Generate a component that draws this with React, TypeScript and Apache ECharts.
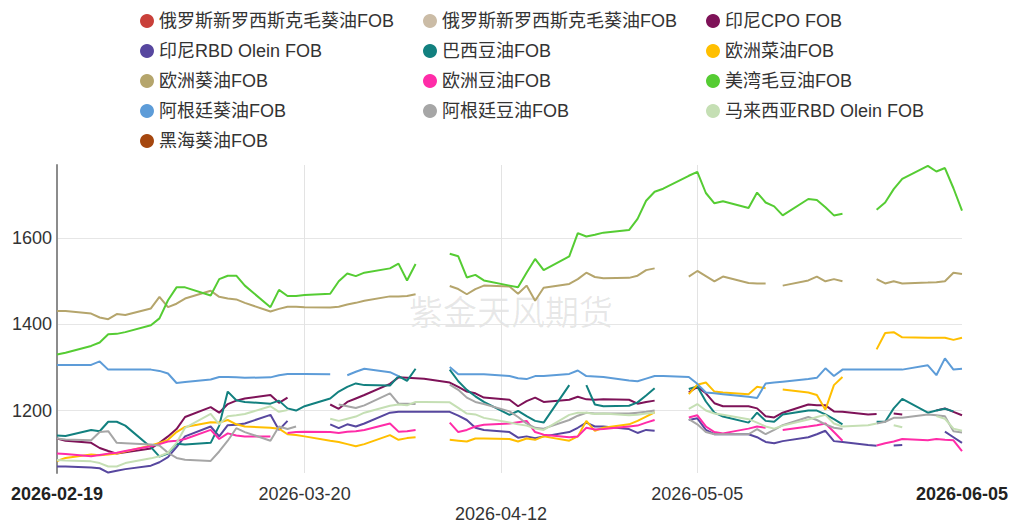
import React, { useEffect, useRef } from 'react';
import * as echarts from 'echarts';

const tradeDates = [
  '2026-02-19','2026-02-20','2026-02-23','2026-02-24','2026-02-25','2026-02-26','2026-02-27',
  '2026-03-02','2026-03-03','2026-03-04','2026-03-05','2026-03-06',
  '2026-03-09','2026-03-10','2026-03-11','2026-03-12','2026-03-13',
  '2026-03-16','2026-03-17','2026-03-18','2026-03-19','2026-03-20',
  '2026-03-23','2026-03-24','2026-03-25','2026-03-26','2026-03-27',
  '2026-03-30','2026-03-31','2026-04-01','2026-04-02','2026-04-03',
  '2026-04-06','2026-04-07','2026-04-08','2026-04-09','2026-04-10',
  '2026-04-13','2026-04-14','2026-04-15','2026-04-16','2026-04-17',
  '2026-04-20','2026-04-21','2026-04-22','2026-04-23','2026-04-24',
  '2026-04-27','2026-04-28','2026-04-29','2026-04-30','2026-05-01',
  '2026-05-04','2026-05-05','2026-05-06','2026-05-07','2026-05-08',
  '2026-05-11','2026-05-12','2026-05-13','2026-05-14','2026-05-15',
  '2026-05-18','2026-05-19','2026-05-20','2026-05-21','2026-05-22',
  '2026-05-25','2026-05-26','2026-05-27','2026-05-28','2026-05-29',
  '2026-06-01','2026-06-02','2026-06-03','2026-06-04','2026-06-05',
];

const tickLabels = ['2026-02-19', '2026-03-20', '2026-04-12', '2026-05-05', '2026-06-05'];
const boldLabels = ['2026-02-19', '2026-06-05'];
const lowLabels = ['2026-04-12'];

type V = number | null;

const russiaSunRaw1: V[] = [];
const russiaSunRaw2: V[] = [];
const blackSeaSun: V[] = [];

const indoCPO: V[] = [
  1135,1130,1125,1113,1106,1100,1103,
  1112,1125,1140,1157,1185,
  1208,1195,1215,1223,1228,
  1236,1218,1230,null,null,
  1214,1204,1220,1228,1236,
  1262,1277,1276,1275,1274,
  1265,1255,1244,1240,1230,
  1225,1210,1222,1230,1220,
  1225,1232,1226,1225,1226,
  1225,1216,1220,1223,null,
  1242,1255,1240,1217,1210,
  1210,1205,1187,1184,1195,
  1214,1212,1212,1198,1197,
  1191,1192,null,1193,1191,
  null,1200,1205,1197,1189,
];

const indoOlein: V[] = [
  1070,1070,1068,1066,1056,1060,1064,
  1072,1080,1092,1115,1140,
  1163,1140,1166,1167,1170,
  1190,1155,1176,null,null,
  1168,1159,1168,1163,1170,
  1195,1197,1197,1197,1197,
  1197,1188,1178,1160,1155,
  1150,1137,1140,1136,1140,
  1150,1160,1172,1163,1163,
  1157,1148,1155,1153,null,
  1178,1182,1155,1145,1145,
  1145,1138,1127,1124,1129,
  1138,1145,1153,1129,1127,
  1120,1118,null,1119,1120,
  null,null,1151,1138,1125,
];

const brazilSoy: V[] = [
  1142,1141,1155,1152,1174,1174,1165,
  1115,1093,1100,1123,1121,
  1125,1165,1244,1224,1220,
  1216,1223,1205,1200,1210,
  1228,1244,1255,1263,1259,
  1258,1280,1269,1297,null,
  1295,1268,1248,1233,1220,
  1190,1199,1187,1176,1172,
  1259,null,1259,1214,1210,
  1211,1219,1235,1252,null,
  1250,1256,1221,1195,1186,
  1172,1195,1176,1174,1191,
  1200,1200,1191,1180,1168,
  null,1174,1174,1205,1227,
  1195,1200,1204,1198,null,
];

const euRape: V[] = [
  1083,1090,1098,1096,1098,1100,1105,
  1119,1125,1132,1150,1162,
  1173,1172,1178,1168,1163,
  1160,1158,1145,1143,1140,
  1130,1127,1122,1117,1122,
  1143,1132,1136,1138,null,
  1132,1130,1128,1135,1135,
  1134,1128,1135,1132,1140,
  1130,1140,1176,1153,1160,
  1168,1176,1186,1196,null,
  1238,1260,1265,1244,1242,
  1238,1255,1252,null,1249,
  1242,1236,1202,1259,1278,
  null,1342,1380,1382,1370,
  1369,1369,1369,1364,1369,
];

const euSun: V[] = [
  1431,1431,1425,1416,1412,1424,1422,
  1437,1464,1440,1448,1460,
  1478,1464,1460,1458,1450,
  1430,1436,1441,1441,1440,
  1439,1441,1446,1450,1455,
  1465,1465,1466,1470,null,
  1489,1482,1470,1482,1490,
  1488,1471,1490,1455,1485,
  1494,1505,1520,1510,1507,
  1508,1513,1526,1530,null,
  1511,1524,1512,1500,1511,
  1496,1495,1495,null,1490,
  1502,1511,1500,1505,1500,
  null,1505,1495,1500,1495,
  1497,1498,1500,1520,1517,
];

const euSoy: V[] = [
  1100,1099,1094,1097,1100,1102,1106,
  1117,1122,1128,1130,1134,
  1155,1134,1147,1142,1140,
  1140,null,1148,1150,1151,
  1150,1148,1151,1152,1155,
  1170,1151,1152,1155,null,
  1172,1150,1155,1163,1167,
  1170,1173,1176,1150,1144,
  1138,1140,1160,1156,1157,
  1163,1165,1172,1178,null,
  1184,1189,1163,1150,1147,
  1158,1163,1160,null,1155,
  1163,1166,1170,1150,1130,
  null,1119,1124,1128,1134,
  1131,1134,1132,1131,1106,
];

const usGulfSoy: V[] = [
  1330,1334,1350,1358,1377,1378,1382,
  1398,1414,1456,1486,1486,
  1467,1505,1513,1513,1490,
  1440,1480,1466,1466,1468,
  1471,1500,1518,1512,1520,
  1530,1541,1502,1540,null,
  1564,1558,1509,1515,1502,
  1490,1486,1520,1552,1526,
  1558,1612,1604,1608,1613,
  1619,1645,1687,1708,1715,
  1745,1754,1705,1681,1686,
  1670,1706,1683,1674,1653,
  1691,1689,1672,1653,1657,
  null,1666,1683,1714,1738,
  1768,1755,1763,1716,1664,
];

const argSun: V[] = [
  1306,1306,1306,1314,1295,1295,1295,
  1295,1292,1286,1264,1266,
  1272,1278,1278,1277,1276,
  1277,1282,1285,1285,1285,
  1284,null,1282,1290,1297,
  1289,1280,null,null,null,
  1301,1284,1284,1284,1284,
  1280,1275,1273,1280,1280,
  1285,1293,1280,1279,1278,
  1270,1268,1274,1280,1280,
  1278,1262,1242,1240,1238,
  1232,1229,1263,1265,1267,
  1273,1276,1298,1280,1295,
  1295,1295,1295,1295,1295,
  1305,1282,1321,1295,1297,
];

const argSoy: V[] = [
  1135,1133,1131,1150,1152,1125,1124,
  1121,1119,1102,1090,1086,
  1083,1105,1130,1159,1150,
  1130,1163,1157,1163,null,
  null,1214,1210,1206,1212,
  1240,1216,1216,1215,null,
  1260,1248,1230,1220,1215,
  1198,1185,1170,1160,1158,
  1178,1188,1195,1193,1193,
  1193,1195,1197,1200,null,
  1180,1168,1150,1145,1145,
  1145,1157,1145,1155,1166,
  1185,1178,1168,1160,1157,
  null,1170,1174,1183,1183,
  1191,1189,1187,1152,1149,
];

const myOlein: V[] = [
  1085,1084,1082,1078,1070,1070,1078,
  1089,1094,1102,1125,1160,
  1192,1168,1187,1189,1192,
  1210,1197,1201,null,null,
  1181,1176,1181,1186,1195,
  1211,1214,1212,1220,1220,
  1219,1206,1193,1191,1183,
  1172,1168,1165,1158,1155,
  1190,1195,1195,1192,1193,
  1189,1190,1193,1195,null,
  1204,1215,1200,1193,1190,
  1180,1172,1163,1158,1165,
  1179,1185,1190,1170,1163,
  1166,1170,null,1166,1161,
  null,1187,1181,1158,1153,
];

const seriesNames = [
  '俄罗斯新罗西斯克毛葵油FOB', '俄罗斯新罗西斯克毛葵油FOB ', '印尼CPO FOB',
  '印尼RBD Olein FOB', '巴西豆油FOB', '欧洲菜油FOB',
  '欧洲葵油FOB', '欧洲豆油FOB', '美湾毛豆油FOB',
  '阿根廷葵油FOB', '阿根廷豆油FOB', '马来西亚RBD Olein FOB',
  '黑海葵油FOB',
];
const seriesValues = [
  russiaSunRaw1, russiaSunRaw2, indoCPO, indoOlein, brazilSoy, euRape,
  euSun, euSoy, usGulfSoy, argSun, argSoy, myOlein, blackSeaSun,
];
const seriesColors = [
  '#c9403a', '#cbbca6', '#7e1258', '#57479f', '#12807f', '#ffbf00',
  '#b5a56c', '#ff2ca8', '#55cc33', '#5d9cd8', '#a6a6a6', '#c5dfb4', '#a5470f',
];

const FONT = '"Liberation Sans", Arial, "Noto Sans CJK SC", sans-serif';

function buildCalendar(start: string, end: string): string[] {
  const out: string[] = [];
  const [ys, ms, ds] = start.split('-').map(Number);
  const [ye, me, de] = end.split('-').map(Number);
  const d = new Date(ys, ms - 1, ds);
  const e = new Date(ye, me - 1, de);
  while (d <= e) {
    const s = `${d.getFullYear()}-${String(d.getMonth() + 1).padStart(2, '0')}-${String(d.getDate()).padStart(2, '0')}`;
    out.push(s);
    d.setDate(d.getDate() + 1);
  }
  return out;
}

export default function App() {
  const ref = useRef<HTMLDivElement>(null);

  useEffect(() => {
    document.body.style.margin = '0';
    if (!ref.current) return;
    const chart = echarts.init(ref.current, undefined, { renderer: 'svg' });
    const first = tradeDates[0];
    const last = tradeDates[tradeDates.length - 1];
    const calendar = buildCalendar(first, last);
    const gridLineIdx = tickLabels.slice(1, -1).map((t) => calendar.indexOf(t));
    const labelIdx = tickLabels.map((t) => calendar.indexOf(t));

    const series = seriesNames.map((name, k) => ({
      name,
      type: 'line',
      xAxisIndex: 0,
      yAxisIndex: 0,
      showSymbol: false,
      symbol: 'none',
      connectNulls: false,
      lineStyle: { width: 2, color: seriesColors[k] },
      itemStyle: { color: seriesColors[k] },
      data: seriesValues[k].map((v, i) => [tradeDates[i], v == null ? '-' : v]),
    }));

    chart.setOption({
      animation: false,
      textStyle: { fontFamily: FONT },
      color: seriesColors,
      legend: {
        data: seriesNames,
        left: 140,
        top: 12,
        width: 850,
        padding: 0,
        icon: 'circle',
        itemWidth: 14,
        itemHeight: 14,
        itemGap: 12,
        formatter: (n: string) => n.trim(),
        textStyle: { fontSize: 18, color: '#333', width: 252, lineHeight: 18, fontFamily: FONT },
      },
      grid: { left: 57, right: 50, top: 165, bottom: 44, containLabel: false },
      graphic: [
        {
          type: 'text',
          x: 511,
          y: 310,
          z: 0,
          silent: true,
          style: {
            text: '紫金天风期货',
            fill: 'rgba(0,0,0,0.09)',
            font: '34px "Noto Sans CJK SC", sans-serif',
            textAlign: 'center',
            textVerticalAlign: 'middle',
          },
        },
      ],
      xAxis: [
        {
          type: 'time',
          position: 'top',
          min: first,
          max: last,
          show: false,
        },
        {
          type: 'category',
          position: 'bottom',
          data: calendar,
          boundaryGap: false,
          axisLine: { show: false },
          axisTick: { show: false },
          axisLabel: {
            interval: (i: number) => labelIdx.includes(i),
            fontSize: 18,
            color: '#333',
            margin: 11,
            lineHeight: 20,
            fontFamily: FONT,
            formatter: (v: string) => {
              if (boldLabels.includes(v)) return `{b|${v}}`;
              if (lowLabels.includes(v)) return `\n${v}`;
              return v;
            },
            rich: {
              b: { fontWeight: 'bold', fontSize: 18, color: '#222', fontFamily: FONT },
            },
          },
          splitLine: {
            show: true,
            interval: (i: number) => gridLineIdx.includes(i),
            lineStyle: { color: '#e3e3e3', width: 1 },
          },
        },
      ],
      yAxis: {
        type: 'value',
        min: 1055,
        max: 1770,
        splitNumber: 4,
        axisLine: { show: true, lineStyle: { color: '#8c8c8c', width: 2 } },
        axisTick: { show: false },
        axisLabel: {
          fontSize: 18,
          color: '#333',
          margin: 5,
          showMinLabel: false,
          showMaxLabel: false,
          fontFamily: FONT,
          formatter: (v: number) => String(v),
        },
        splitLine: {
          show: true,
          showMinLine: false,
          showMaxLine: false,
          lineStyle: { color: '#e6e6e6', width: 1 },
        },
      },
      series,
    });

    return () => chart.dispose();
  }, []);

  return <div ref={ref} style={{ width: 1012, height: 524 }} />;
}
